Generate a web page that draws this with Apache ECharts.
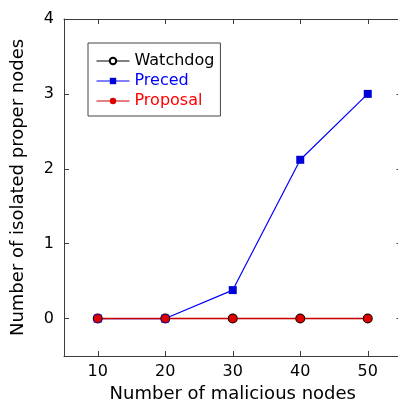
<!DOCTYPE html>
<html>
<head>
<meta charset="utf-8">
<script src="https://cdn.jsdelivr.net/npm/echarts@6/dist/echarts.min.js"></script>
<style>
  html, body { margin: 0; padding: 0; background: #fff; }
  #chart { width: 398px; height: 405px; }
</style>
</head>
<body>
<div id="chart"></div>
<script>
// data
const maliciousNodes = [10, 20, 30, 40, 50];
const watchdog = [0, 0, 0, 0, 0];
const preced = [0, 0, 0.38, 2.12, 3.0];
const proposal = [0, 0, 0, 0, 0];
const xTicks = [10, 20, 30, 40, 50];
const yTicks = [0, 1, 2, 3, 4];

const font = "DejaVu Sans";
const axisColor = "#3c3c3c";

function pairs(ys) {
  return maliciousNodes.map((x, i) => [x, ys[i]]);
}

function xAxisCfg(pos, showLabel) {
  return {
    type: "value",
    position: pos,
    min: 5,
    max: 55,
    name: showLabel ? "Number of malicious nodes" : "",
    nameLocation: "middle",
    nameGap: 28,
    nameTextStyle: { fontFamily: font, fontSize: 18, color: "#000" },
    axisLine: { show: true, onZero: false, lineStyle: { color: axisColor, width: 1 } },
    axisTick: { show: true, inside: true, length: 5, customValues: xTicks, lineStyle: { color: axisColor } },
    axisLabel: { show: showLabel, customValues: xTicks, margin: 8, fontFamily: font, fontSize: 16, color: "#000" },
    splitLine: { show: false }
  };
}

function yAxisCfg(pos, showLabel) {
  return {
    type: "value",
    position: pos,
    min: -0.5,
    max: 4,
    name: showLabel ? "Number of isolated proper nodes" : "",
    nameLocation: "middle",
    nameGap: 37,
    nameTextStyle: { fontFamily: font, fontSize: 18, color: "#000" },
    axisLine: { show: true, onZero: false, lineStyle: { color: axisColor, width: 1 } },
    axisTick: { show: true, inside: true, length: 5, customValues: yTicks, lineStyle: { color: axisColor } },
    axisLabel: { show: showLabel, customValues: yTicks, margin: 10, fontFamily: font, fontSize: 16, color: "#000" },
    splitLine: { show: false }
  };
}

let option = {
  backgroundColor: "#fff",
  animation: false,
  grid: {
    left: 64,
    top: 19,
    width: 337.5,
    height: 337,
    containLabel: false,
    outerBoundsMode: "none"
  },
  legend: {
    left: 88,
    top: 43,
    orient: "vertical",
    padding: [10, 6, 7, 8],
    itemWidth: 33,
    itemHeight: 8,
    itemGap: 4,
    borderColor: "#444",
    borderWidth: 1,
    backgroundColor: "#fff",
    lineStyle: { width: 1 },
    textStyle: { fontFamily: font, fontSize: 16 },
    data: [
      { name: "Watchdog", textStyle: { color: "#000" } },
      { name: "Preced", textStyle: { color: "#0000ff" } },
      { name: "Proposal", textStyle: { color: "#ff0000" } }
    ]
  },
  xAxis: [xAxisCfg("bottom", true), xAxisCfg("top", false)],
  yAxis: [yAxisCfg("left", true), yAxisCfg("right", false)],
  series: [
    {
      name: "Watchdog",
      type: "line",
      data: pairs(watchdog),
      symbol: "emptyCircle",
      symbolSize: 8,
      lineStyle: { color: "#000", width: 1 },
      itemStyle: { color: "#000", borderColor: "#000", borderWidth: 1 }
    },
    {
      name: "Preced",
      type: "line",
      data: pairs(preced),
      symbol: "rect",
      symbolSize: 8,
      lineStyle: { color: "#0000ff", width: 1.2 },
      itemStyle: { color: "#0000d8" }
    },
    {
      name: "Proposal",
      type: "line",
      data: pairs(proposal),
      symbol: "circle",
      symbolSize: 8,
      lineStyle: { color: "#cc0000", width: 1.5 },
      itemStyle: { color: "#dd0000" }
    }
  ]
};

const dom = echarts.init(document.getElementById("chart"));
dom.setOption(option);
</script>
</body>
</html>
